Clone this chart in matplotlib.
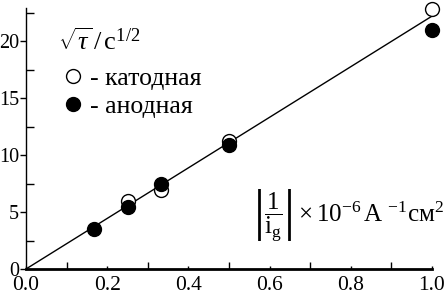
import matplotlib
matplotlib.use("Agg")
import matplotlib.pyplot as plt
from matplotlib.lines import Line2D
from matplotlib.ticker import MultipleLocator

plt.rcParams['font.family'] = ['Liberation Serif', 'DejaVu Serif']
plt.rcParams['mathtext.fontset'] = 'custom'
plt.rcParams['mathtext.rm'] = 'Liberation Serif'
plt.rcParams['mathtext.it'] = 'Liberation Serif:italic'
plt.rcParams['mathtext.bf'] = 'Liberation Serif:bold'

# data
x_cath = [0.25, 0.333, 0.5, 1.0]
y_cath = [6.0, 6.9, 11.2, 22.8]
x_anod = [0.167, 0.25, 0.333, 0.5, 1.0]
y_anod = [3.5, 5.4, 7.45, 10.9, 21.0]
fit_x = [0.0, 1.0]
fit_y = [0.0, 22.2]
label_cath = "- катодная"
label_anod = "- анодная"

fig = plt.figure(figsize=(4.44, 2.96), dpi=100)
ax = fig.add_axes([26/444, 1-269/296, 406/444, 262/296])

ax.plot(fit_x, fit_y, color='black', lw=1.0, zorder=1)
ax.plot(x_cath, y_cath, 'o', mfc='white', mec='black', mew=1.0, ms=10, ls='none', zorder=2, clip_on=False)
ax.plot(x_anod, y_anod, 'o', mfc='black', mec='black', ms=10, ls='none', zorder=3, clip_on=False)

ax.set_xlim(0, 1.0)
ax.set_ylim(0, 23)
ax.xaxis.set_major_locator(MultipleLocator(0.2))
ax.xaxis.set_minor_locator(MultipleLocator(0.1))
ax.yaxis.set_major_locator(MultipleLocator(5))
ax.yaxis.set_minor_locator(MultipleLocator(2.5))
ax.tick_params(axis='x', which='major', direction='in', length=2, width=1, labelsize=15.5, pad=5)
ax.tick_params(axis='x', which='minor', direction='in', length=5, width=1)
ax.tick_params(axis='y', which='major', direction='out', length=4, width=1, labelsize=14.5, pad=1)
ax.tick_params(axis='y', which='minor', direction='in', length=6, width=1)
ax.xaxis.set_major_formatter(plt.FuncFormatter(lambda v, p: f"{v:.1f}"))
ax.yaxis.set_major_formatter(plt.FuncFormatter(lambda v, p: f"{int(round(v))}"))

for s in ['top', 'right']:
    ax.spines[s].set_visible(False)
ax.spines['bottom'].set_linewidth(2.0)
ax.spines['left'].set_linewidth(1.0)
ax.spines['left'].set_bounds(0, 22.9)

ax.text(0.078, 20.0, r'$\sqrt{\tau}\,/\,\mathrm{c}^{1/2}$', fontsize=19, ha='left', va='center')

handles = [Line2D([], [], marker='o', ls='none', mfc='white', mec='black', ms=10),
           Line2D([], [], marker='o', ls='none', mfc='black', mec='black', ms=10)]
ax.legend(handles, [label_cath, label_anod], loc='upper left', bbox_to_anchor=(0.065, 0.81),
          frameon=False, fontsize=18.5, handlelength=0.8, handletextpad=0.25, labelspacing=0.2,
          borderaxespad=0)

ax.text(1.03, 4.7, r'$\left|\dfrac{1}{\mathrm{i_g}}\right|\times10^{-6}\,\mathrm{A}\ ^{-1}\mathrm{см}^{2}$',
        fontsize=18, ha='right', va='center')

fig.savefig('out.png', dpi=100)
